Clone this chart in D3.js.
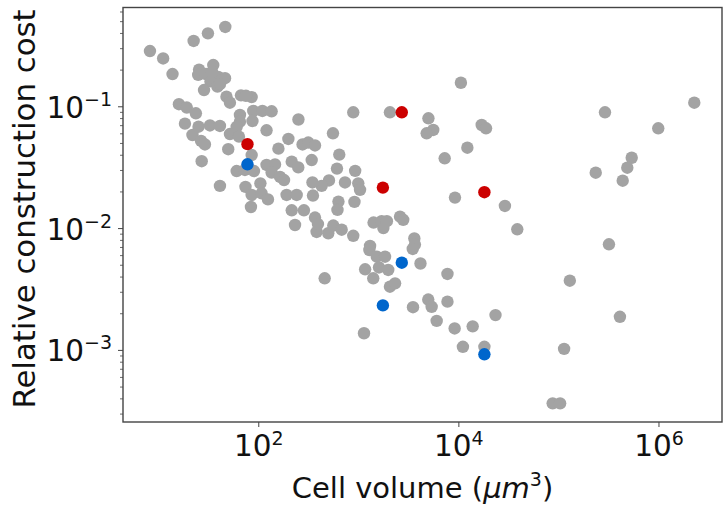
<!DOCTYPE html>
<html>
<head>
<meta charset="utf-8">
<script src="https://cdn.jsdelivr.net/npm/d3@7/dist/d3.min.js"></script>
<style>
  html, body { margin: 0; padding: 0; background: #fff; }
  svg { display: block; }
  text { font-family: "DejaVu Sans", sans-serif; fill: #111; }
</style>
</head>
<body>
<svg id="chart" width="725" height="512"></svg>
<script>
// ---- data ----
const grayVolume = [
  8.27, 11.2, 13.9, 22.6, 31.4, 46.8, 25.6, 35.5, 25.1, 30.0,
  39.8, 46.5, 33.3, 28.7, 39.1, 34.5, 41.4, 48.1, 52.1, 67.2,
  85.9, 75.3, 16.1, 19.3, 23.8, 18.5, 25.3, 32.9, 41.4, 22.0,
  26.8, 29.3, 27.2, 41.4, 65.6, 65.6, 60.8, 52.1, 64.1, 50.1,
  89.1, 110, 136, 87.5, 121, 85.9, 60.8, 73.6, 90.6, 74.5,
  85.9, 105, 108, 125, 84.5, 121, 147, 136, 165, 181,
  159, 200, 216, 251, 252, 277, 316, 369, 342, 558,
  645, 612, 930, 736, 999, 1040, 509, 430, 348, 352,
  192, 242, 216, 286, 633, 619, 915, 233, 369, 383,
  501, 562, 682, 890, 395, 890, 2070, 5020, 5610, 4820,
  7300, 2610, 2810, 1420, 1710, 1930, 1780, 1310, 1290, 3630,
  3680, 3500, 1530, 1850, 1610, 1990, 1170, 1410, 2070, 2330,
  4180, 461, 7780, 3520, 5000, 5410, 7780, 6070, 9180, 13900,
  11100, 18200, 1140, 23500, 29200, 38800, 9250, 12300, 10600, 17100,
  18900, 320000, 130000, 412000, 114000, 87600, 104000, 292000, 2280000, 995000,
  540000, 488000, 439000, 236000
];
const grayCost = [
  0.284, 0.247, 0.184, 0.344, 0.397, 0.448, 0.200, 0.218, 0.181, 0.184,
  0.174, 0.170, 0.160, 0.136, 0.145, 0.191, 0.152, 0.120, 0.107, 0.123,
  0.119, 0.122, 0.104, 0.0977, 0.0876, 0.0720, 0.0680, 0.0696, 0.0689, 0.0581,
  0.0519, 0.0486, 0.0354, 0.0222, 0.0848, 0.0747, 0.0676, 0.0592, 0.0563, 0.0444,
  0.0915, 0.0915, 0.0910, 0.0757, 0.0635, 0.0398, 0.0294, 0.0300, 0.0294, 0.0218,
  0.0187, 0.0233, 0.0193, 0.0172, 0.0149, 0.0330, 0.0333, 0.0286, 0.0263, 0.0248,
  0.0449, 0.0539, 0.0351, 0.0315, 0.0779, 0.0486, 0.0504, 0.0477, 0.0362, 0.0600,
  0.0401, 0.0308, 0.0295, 0.0237, 0.0233, 0.0206, 0.0246, 0.0222, 0.0237, 0.0185,
  0.0187, 0.0187, 0.0140, 0.0140, 0.0165, 0.0141, 0.0164, 0.0106, 0.0122, 0.00929,
  0.00907, 0.0105, 0.0097, 0.00865, 0.0108, 0.0893, 0.0893, 0.0797, 0.0639, 0.0600,
  0.0374, 0.0124, 0.0117, 0.0111, 0.0114, 0.0114, 0.0100, 0.00713, 0.00661, 0.00822,
  0.00733, 0.00674, 0.00582, 0.00582, 0.00475, 0.00453, 0.00459, 0.00387, 0.00330, 0.00352,
  0.00512, 0.00387, 0.00420, 0.00224, 0.00259, 0.00226, 0.00249, 0.00173, 0.00150, 0.00156,
  0.00106, 0.00106, 0.00137, 0.00193, 0.0152, 0.00977, 0.0178, 0.0457, 0.156, 0.0702,
  0.0660, 0.00736, 0.00370, 0.00187, 0.00102, 0.000364, 0.000364, 0.0893, 0.107, 0.0660,
  0.0378, 0.0313, 0.0245, 0.0285
];
const redVolume = [78.0, 2720, 1760, 18200];
const redCost   = [0.0489, 0.0893, 0.0215, 0.0197];
const blueVolume = [78.0, 2720, 1760, 18200];
const blueCost   = [0.0334, 0.0052, 0.00232, 0.00092];

const xTickValues = [1e2, 1e4, 1e6];
const yTickValues = [1e-3, 1e-2, 1e-1];
const xTitle = "Cell volume";
const yTitle = "Relative construction cost";

// ---- layout ----
const svg = d3.select("#chart");
const L = 123, R = 722, T = 7.5, B = 422;
const x = d3.scaleLog().domain([4.446, 4.315e6]).range([L, R]);
const y = d3.scaleLog().domain([2.559e-4, 0.6471]).range([B, T]);

const COL_GRAY = "#a3a3a3", COL_RED = "#cc0000", COL_BLUE = "#0066cc";
const RAD = 6.2;

function toPts(xs, ys) { return xs.map((v, i) => ({ v: v, c: ys[i] })); }

const plot = svg.append("g");
function drawSeries(pts, col) {
  plot.selectAll(null).data(pts).enter().append("circle")
    .attr("cx", d => x(d.v)).attr("cy", d => y(d.c))
    .attr("r", RAD).attr("fill", col);
}
drawSeries(toPts(grayVolume, grayCost), COL_GRAY);
drawSeries(toPts(redVolume, redCost), COL_RED);
drawSeries(toPts(blueVolume, blueCost), COL_BLUE);

// ---- axes ----
const AX = "#444";
const expLabel = d => {
  const e = Math.round(Math.log10(d));
  return (e < 0 ? "\u2212" : "") + Math.abs(e);
};

const xAxis = svg.append("g").attr("transform", `translate(0,${B})`)
  .call(d3.axisBottom(x).tickValues(xTickValues).tickSize(5).tickFormat(() => ""));
xAxis.select(".domain").remove();
xAxis.selectAll(".tick line").attr("stroke", AX).attr("stroke-width", 1);
xAxis.selectAll(".tick text").remove();
xAxis.selectAll(".tick").each(function(d) {
  const t = d3.select(this).append("text")
    .attr("x", 0).attr("y", 34).attr("text-anchor", "middle")
    .style("font-size", "29.5px");
  t.append("tspan").text("10");
  t.append("tspan").attr("dy", -11).style("font-size", "19px").text(expLabel(d));
});

const yMinor = y.ticks().filter(v => Math.abs(Math.log10(v) - Math.round(Math.log10(v))) > 1e-6);
const yMinorAxis = svg.append("g").attr("transform", `translate(${L},0)`)
  .call(d3.axisLeft(y).tickValues(yMinor).tickSize(3).tickFormat(() => ""));
yMinorAxis.select(".domain").remove();
yMinorAxis.selectAll(".tick line").attr("stroke", AX).attr("stroke-width", 0.8);

const yAxis = svg.append("g").attr("transform", `translate(${L},0)`)
  .call(d3.axisLeft(y).tickValues(yTickValues).tickSize(5).tickFormat(() => ""));
yAxis.select(".domain").remove();
yAxis.selectAll(".tick line").attr("stroke", AX).attr("stroke-width", 1);
yAxis.selectAll(".tick text").remove();
yAxis.selectAll(".tick").each(function(d) {
  const t = d3.select(this).append("text")
    .attr("x", -11).attr("y", 11).attr("text-anchor", "end")
    .style("font-size", "29.5px");
  t.append("tspan").text("10");
  t.append("tspan").attr("dy", -12).style("font-size", "19px").text(expLabel(d));
});

// frame
svg.append("rect").attr("x", L).attr("y", T).attr("width", R - L).attr("height", B - T)
  .attr("fill", "none").attr("stroke", AX).attr("stroke-width", 1.4);

// titles
const xt = svg.append("text").attr("x", (L + R) / 2).attr("y", 498)
  .attr("text-anchor", "middle").style("font-size", "29px");
xt.append("tspan").text(xTitle + " (");
xt.append("tspan").style("font-style", "italic").text("\u03bcm");
xt.append("tspan").attr("dy", -12).style("font-size", "19px").text("3");
xt.append("tspan").attr("dy", 12).text(")");

svg.append("text")
  .attr("transform", `translate(35,209) rotate(-90)`)
  .attr("text-anchor", "middle").style("font-size", "30.8px")
  .text(yTitle);
</script>
</body>
</html>
